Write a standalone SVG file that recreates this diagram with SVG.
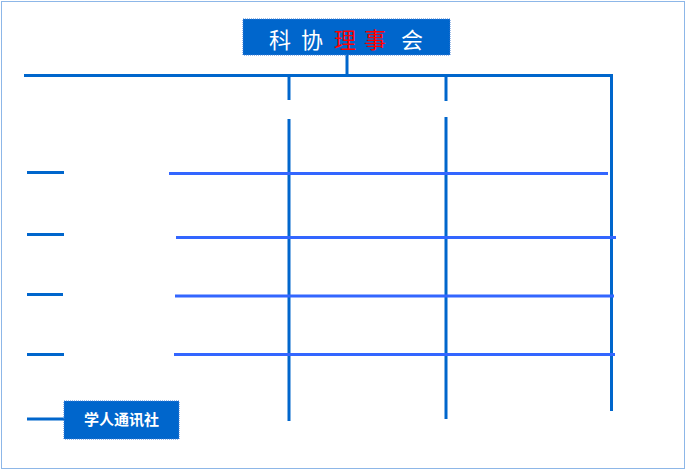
<svg xmlns="http://www.w3.org/2000/svg" width="686" height="470" viewBox="0 0 686 470">
<style>
.frame{fill:none;stroke:#1a6fd0;stroke-width:1;stroke-dasharray:1 1}
.box{fill:#0066cc;stroke:#3a7bd5;stroke-width:1;stroke-dasharray:1 1}
.dk{stroke:#0066cc;stroke-width:3;fill:none}
.lt{stroke:#3366ff;stroke-width:3;fill:none}
.t1{font-family:"Liberation Serif","Noto Sans CJK SC",serif;font-size:22px;fill:#ffffff}
.t2{font-family:"Liberation Sans","Noto Sans CJK SC",sans-serif;font-size:15px;font-weight:bold;fill:#ffffff}
</style>
<rect x="0" y="0" width="686" height="470" fill="#ffffff"/>
<rect class="frame" x="1.5" y="1.5" width="683" height="467"/>
<g id="connectors">
<line class="dk" x1="347" y1="55" x2="347" y2="76"/>
<line class="dk" x1="24" y1="75.5" x2="613" y2="75.5"/>
<line class="dk" x1="289" y1="76" x2="289" y2="100"/>
<line class="dk" x1="289" y1="119" x2="289" y2="421"/>
<line class="dk" x1="446" y1="76" x2="446" y2="101"/>
<line class="dk" x1="446" y1="117" x2="446" y2="419"/>
<line class="dk" x1="611.5" y1="76" x2="611.5" y2="411"/>
<line class="lt" x1="169" y1="173.5" x2="608" y2="173.5"/>
<line class="lt" x1="176" y1="237.5" x2="616" y2="237.5"/>
<line class="lt" x1="175" y1="296" x2="614" y2="296"/>
<line class="lt" x1="174" y1="354.5" x2="615" y2="354.5"/>
<line class="dk" x1="27" y1="172.5" x2="64" y2="172.5"/>
<line class="dk" x1="27" y1="234.5" x2="64" y2="234.5"/>
<line class="dk" x1="27" y1="294.5" x2="63" y2="294.5"/>
<line class="dk" x1="27" y1="354.5" x2="64" y2="354.5"/>
<line class="dk" x1="27" y1="419" x2="64" y2="419"/>
</g>
<g id="node-council">
<rect class="box" x="243" y="19" width="207" height="36"/>
<text class="t1" x="269" y="48">科</text>
<text class="t1" x="301" y="48">协</text>
<text class="t1" x="334" y="48" fill="#ff0000" style="fill:#ff0000">理</text>
<text class="t1" x="364" y="48" style="fill:#ff0000">事</text>
<text class="t1" x="401" y="48">会</text>
</g>
<g id="node-newsletter">
<rect class="box" x="64" y="401" width="115" height="38"/>
<text class="t2" x="121.5" y="425" text-anchor="middle">学人通讯社</text>
</g>
</svg>
